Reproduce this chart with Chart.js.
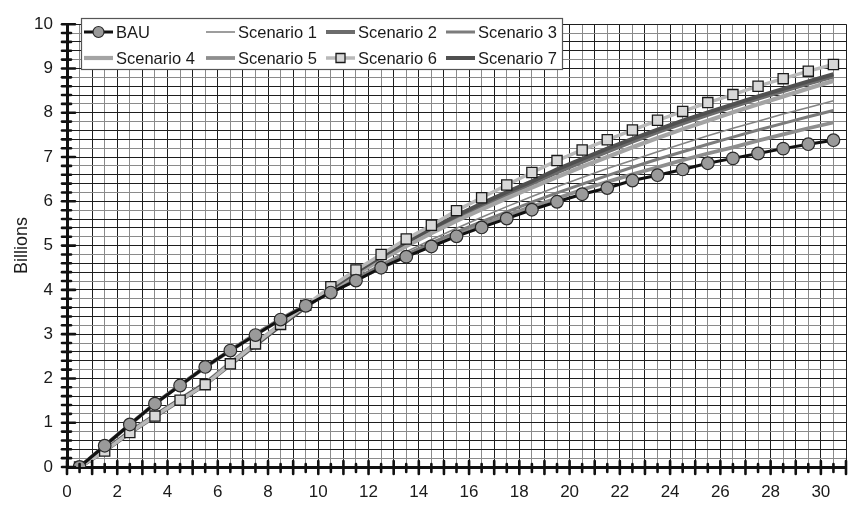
<!DOCTYPE html>
<html>
<head>
<meta charset="utf-8">
<script src="https://cdn.jsdelivr.net/npm/chart.js@4.4.0/dist/chart.umd.min.js"></script>
<style>
  html, body { margin: 0; padding: 0; background: #fff; }
</style>
</head>
<body>
<canvas id="myChart" width="861" height="506"></canvas>
<script>
// years after start (x axis)
var years = [0.5, 1.5, 2.5, 3.5, 4.5, 5.5, 6.5, 7.5, 8.5, 9.5, 10.5, 11.5, 12.5, 13.5, 14.5, 15.5,
             16.5, 17.5, 18.5, 19.5, 20.5, 21.5, 22.5, 23.5, 24.5, 25.5, 26.5, 27.5, 28.5, 29.5, 30.5];

// cumulative totals, billions
var bau = [0.00, 0.48, 0.96, 1.43, 1.84, 2.26, 2.63, 2.98, 3.33, 3.64, 3.94, 4.21, 4.50, 4.75, 4.98, 5.21,
           5.41, 5.61, 5.81, 5.99, 6.16, 6.30, 6.47, 6.59, 6.72, 6.86, 6.97, 7.08, 7.19, 7.29, 7.38];
var scenario1 = [0.00, 0.47, 0.95, 1.42, 1.85, 2.26, 2.64, 3.00, 3.34, 3.66, 3.98, 4.28, 4.58, 4.86, 5.13, 5.39,
                 5.64, 5.88, 6.11, 6.33, 6.54, 6.74, 6.93, 7.12, 7.30, 7.48, 7.65, 7.81, 7.97, 8.12, 8.27];
var scenario2 = [0.00, 0.36, 0.77, 1.14, 1.50, 1.86, 2.31, 2.75, 3.19, 3.61, 4.01, 4.37, 4.71, 5.03, 5.33, 5.62,
                 5.89, 6.15, 6.40, 6.65, 6.89, 7.12, 7.35, 7.56, 7.76, 7.95, 8.14, 8.32, 8.49, 8.66, 8.82];
var scenario3 = [0.00, 0.49, 0.97, 1.44, 1.86, 2.27, 2.65, 3.01, 3.35, 3.66, 3.96, 4.25, 4.53, 4.80, 5.06, 5.31,
                 5.54, 5.76, 5.98, 6.19, 6.39, 6.58, 6.77, 6.95, 7.12, 7.29, 7.45, 7.61, 7.76, 7.91, 8.05];
var scenario4 = [0.00, 0.38, 0.80, 1.17, 1.53, 1.89, 2.35, 2.79, 3.22, 3.63, 4.00, 4.35, 4.68, 4.99, 5.28, 5.56,
                 5.82, 6.07, 6.31, 6.55, 6.78, 7.00, 7.22, 7.43, 7.63, 7.82, 8.01, 8.19, 8.37, 8.55, 8.72];
var scenario5 = [0.00, 0.48, 0.96, 1.43, 1.85, 2.25, 2.63, 2.99, 3.33, 3.65, 3.95, 4.23, 4.50, 4.76, 5.01, 5.25,
                 5.47, 5.68, 5.88, 6.07, 6.26, 6.44, 6.61, 6.77, 6.93, 7.08, 7.22, 7.37, 7.51, 7.65, 7.78];
var scenario6 = [0.00, 0.36, 0.78, 1.15, 1.51, 1.86, 2.33, 2.78, 3.22, 3.65, 4.07, 4.45, 4.80, 5.15, 5.46, 5.79,
                 6.08, 6.37, 6.65, 6.92, 7.16, 7.39, 7.61, 7.83, 8.03, 8.23, 8.41, 8.60, 8.77, 8.94, 9.09];
var scenario7 = [0.00, 0.37, 0.79, 1.16, 1.52, 1.88, 2.33, 2.77, 3.20, 3.62, 4.03, 4.40, 4.75, 5.08, 5.39, 5.68,
                 5.95, 6.21, 6.45, 6.72, 6.96, 7.19, 7.41, 7.62, 7.82, 8.01, 8.19, 8.37, 8.54, 8.71, 8.87];

var xTickLabels = [0, 2, 4, 6, 8, 10, 12, 14, 16, 18, 20, 22, 24, 26, 28, 30];
var yTickLabels = [0, 1, 2, 3, 4, 5, 6, 7, 8, 9, 10];

var FONT = '"Liberation Sans", Arial, Helvetica, sans-serif';

function isWhole(v) {
  return Math.abs(v - Math.round(v)) < 1e-6;
}

function pairs(values) {
  return values.map(function(v, i) { return { x: years[i], y: v }; });
}

function line(label, values, color, width, order) {
  return {
    label: label,
    data: pairs(values),
    borderColor: color,
    backgroundColor: color,
    borderWidth: width,
    pointRadius: 0,
    tension: 0,
    order: order
  };
}

var datasets = [
  {
    label: 'BAU',
    data: pairs(bau),
    borderColor: '#111',
    borderWidth: 3,
    pointStyle: 'circle',
    pointRadius: 6.3,
    pointBackgroundColor: '#9a9a9a',
    pointBorderColor: '#2a2a2a',
    pointBorderWidth: 1.2,
    tension: 0,
    order: 0
  },
  line('Scenario 1', scenario1, '#848484', 1.6, 6),
  line('Scenario 2', scenario2, '#6c6c6c', 4, 4),
  line('Scenario 3', scenario3, '#7c7c7c', 3, 5),
  line('Scenario 4', scenario4, '#a4a4a4', 4.2, 3),
  line('Scenario 5', scenario5, '#8e8e8e', 3.8, 7),
  {
    label: 'Scenario 6',
    data: pairs(scenario6),
    borderColor: '#b9b9b9',
    borderWidth: 3.5,
    pointStyle: 'rect',
    pointRadius: 7.2,
    pointBackgroundColor: '#d8d8d8',
    pointBorderColor: '#1a1a1a',
    pointBorderWidth: 1.3,
    tension: 0,
    order: 1
  },
  line('Scenario 7', scenario7, '#505050', 4, 2)
];

// short tick dashes across both axes, longer at whole numbers
var axisTicks = {
  id: 'axisTicks',
  afterDraw: function(chart) {
    var ctx = chart.ctx, area = chart.chartArea;
    var xs = chart.scales.x, ys = chart.scales.y;
    ctx.save();
    ctx.strokeStyle = '#111';
    ctx.lineCap = 'round';
    ctx.lineWidth = 2.6;
    ys.ticks.forEach(function(t) {
      var y = ys.getPixelForValue(t.value);
      var major = isWhole(t.value);
      ctx.beginPath();
      ctx.moveTo(area.left - 5, y);
      ctx.lineTo(area.left + (major ? 8 : 4), y);
      ctx.stroke();
    });
    xs.ticks.forEach(function(t) {
      var x = xs.getPixelForValue(t.value);
      var major = isWhole(t.value);
      ctx.beginPath();
      ctx.moveTo(x, area.bottom - (major ? 6 : 3));
      ctx.lineTo(x, area.bottom + (major ? 7 : 5));
      ctx.stroke();
    });
    ctx.restore();
  }
};

// boxed legend in four columns inside the plot
var boxLegend = {
  id: 'boxLegend',
  afterDraw: function(chart) {
    var ctx = chart.ctx;
    var cols = [84, 206, 326, 446];
    var rows = [32, 58];
    ctx.save();
    ctx.fillStyle = '#fff';
    ctx.fillRect(81, 18, 481, 51);
    ctx.strokeStyle = '#555';
    ctx.lineWidth = 1.2;
    ctx.strokeRect(81.5, 18.5, 481, 51);
    ctx.font = '16.5px ' + FONT;
    ctx.textBaseline = 'middle';
    chart.data.datasets.forEach(function(ds, i) {
      var x = cols[i % 4], y = rows[Math.floor(i / 4)];
      ctx.strokeStyle = ds.borderColor;
      ctx.lineWidth = ds.borderWidth;
      ctx.lineCap = 'butt';
      ctx.beginPath();
      ctx.moveTo(x, y);
      ctx.lineTo(x + 29, y);
      ctx.stroke();
      if (ds.pointRadius) {
        ctx.fillStyle = ds.pointBackgroundColor;
        ctx.strokeStyle = ds.pointBorderColor;
        ctx.lineWidth = ds.pointBorderWidth;
        ctx.beginPath();
        if (ds.pointStyle === 'rect') {
          ctx.rect(x + 10, y - 4.5, 9, 9);
        } else {
          ctx.arc(x + 14.5, y, 5.5, 0, Math.PI * 2);
        }
        ctx.fill();
        ctx.stroke();
      }
      ctx.fillStyle = '#1a1a1a';
      ctx.fillText(ds.label, x + 32, y + 1);
    });
    ctx.restore();
  }
};

var myChart = new Chart(document.getElementById('myChart').getContext('2d'), {
  type: 'line',
  data: { datasets: datasets },
  plugins: [axisTicks, boxLegend],
  options: {
    responsive: false,
    devicePixelRatio: 1,
    animation: false,
    layout: { padding: { top: 13, right: 4, left: 0, bottom: 0 } },
    plugins: {
      legend: { display: false },
      tooltip: { enabled: false }
    },
    scales: {
      x: {
        type: 'linear',
        min: 0,
        max: 31,
        afterFit: function(scale) { scale.height = 39; },
        ticks: {
          stepSize: 0.5,
          autoSkip: false,
          maxRotation: 0,
          padding: 15,
          color: '#1a1a1a',
          font: { family: FONT, size: 17 },
          callback: function(v) {
            return xTickLabels.indexOf(v) >= 0 ? String(v) : '';
          }
        },
        grid: {
          drawTicks: false,
          lineWidth: 1,
          color: function(c) {
            return isWhole(c.tick.value) ? '#1e1e1e' : '#8a8a8a';
          }
        },
        border: { display: true, color: '#111', width: 3 }
      },
      y: {
        min: 0,
        max: 10,
        afterFit: function(scale) { scale.width = 67; },
        title: {
          display: true,
          text: 'Billions',
          color: '#1a1a1a',
          font: { family: FONT, size: 18 },
          padding: { top: 11, bottom: 0 }
        },
        ticks: {
          stepSize: 0.2,
          autoSkip: false,
          padding: 14,
          color: '#1a1a1a',
          font: { family: FONT, size: 17 },
          callback: function(v) {
            var r = Math.round(v);
            return isWhole(v) && yTickLabels.indexOf(r) >= 0 ? String(r) : '';
          }
        },
        grid: {
          drawTicks: false,
          lineWidth: 1,
          color: function(c) {
            var f = Math.round((c.tick.value % 1) * 10);
            return (f === 2 || f === 8) ? '#8a8a8a' : '#1e1e1e';
          }
        },
        border: { display: true, color: '#111', width: 3 }
      }
    }
  }
});
</script>
</body>
</html>
